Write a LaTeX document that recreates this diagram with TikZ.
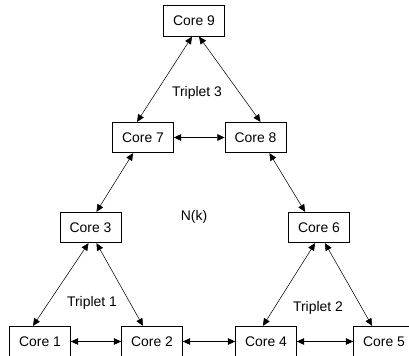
\documentclass[tikz,border=0pt]{standalone}
\usepackage{fontspec}
\setmainfont{Liberation Sans}
\usetikzlibrary{arrows.meta}
\begin{document}
\begin{tikzpicture}[x=0.0265cm, y=-0.0265cm, >={Triangle[length=5.5pt,width=5pt]},
		core/.style={draw, line width=0.6pt, minimum width=46pt, minimum height=23pt, inner sep=0pt}]
		\useasboundingbox (0,0) rectangle (409,356);
		\clip (0,0) rectangle (409,356);
		\begin{scope}[every node/.append style={font=\fontsize{10.5}{12}\selectfont}]
			\node[core] (c9) at (194, 21) {Core 9};
			\node[core] (c7) at (143, 137.5) {Core 7};
			\node[core] (c8) at (255.5, 137.5) {Core 8};
			\node[core] (c3) at (90.5, 227.5) {Core 3};
			\node[core] (c6) at (319, 227.5) {Core 6};
			\node[core] (c1) at (40, 341.5) {Core 1};
			\node[core] (c2) at (152, 341.5) {Core 2};
			\node[core] (c4) at (266, 341.5) {Core 4};
			\node[core] (c5) at (384, 341.5) {Core 5};

			\node (t3) at (197, 93) {Triplet 3};
			\node (nk) at (194, 217) {N(k)};
			\node (t1) at (92, 303) {Triplet 1};
			\node (t2) at (318, 308) {Triplet 2};
		\end{scope}

		\draw [<->] ([xshift=-1.5pt]c9.south) -- ([xshift=-4.5pt]c7.north);
		\draw [<->] ([xshift=3.8pt]c9.south) -- ([xshift=3.8pt]c8.north);
		\draw [<->] ([xshift=-7.5pt]c7.south) -- ([xshift=4.5pt]c3.north);
		\draw [<->] ([xshift=10.5pt]c8.south) -- ([xshift=-10.5pt]c6.north);
		\draw [<->] ([xshift=-1.5pt]c3.south) -- ([xshift=-5.3pt]c1.north);
		\draw [<->] ([xshift=4.5pt]c3.south) -- ([xshift=-6.8pt]c2.north);
		\draw [<->] ([xshift=-3pt]c6.south) -- ([xshift=-2.3pt]c4.north);
		\draw [<->] ([xshift=4.5pt]c6.south) -- ([xshift=-9pt]c5.north);
		\draw [<->] (c7) -- (c8);
		\draw [<->] (c1) -- (c2);
		\draw [<->] (c2) -- (c4);
		\draw [<->] (c4) -- (c5);
	\end{tikzpicture}
\end{document}
